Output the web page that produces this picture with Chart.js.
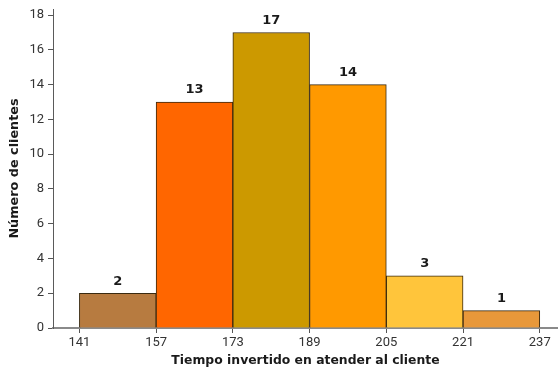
<!DOCTYPE html>
<html>
<head>
<meta charset="utf-8">
<script src="https://cdn.jsdelivr.net/npm/chart.js@4/dist/chart.umd.min.js"></script>
<style>
  html, body { margin: 0; padding: 0; background: #ffffff; }
  #wrap { width: 558px; height: 368px; }
</style>
</head>
<body>
<div id="wrap"><canvas id="hist" width="558" height="368"></canvas></div>
<script>
// Class boundaries (seconds spent attending each customer)
const binEdges = [141, 157, 173, 189, 205, 221, 237];
// Number of customers in each class
const clientCounts = [2, 13, 17, 14, 3, 1];
// Fill colour of each class bar
const barColors = ['#b77b40', '#ff6600', '#cc9900', '#ff9900', '#ffc53b', '#e8983a'];
// Count axis ticks
const countTicks = [0, 2, 4, 6, 8, 10, 12, 14, 16, 18];

const xTitle = 'Tiempo invertido en atender al cliente';
const yTitle = 'Número de clientes';

const TITLE_FONT = "'DejaVu Sans', Verdana, sans-serif";
const TICK_FONT = "Roboto, 'Liberation Sans', Arial, sans-serif";

// each bar sits on the midpoint of its class
const histPoints = clientCounts.map((c, i) => ({ x: (binEdges[i] + binEdges[i + 1]) / 2, y: c }));

// count written above each bar
const barValueLabels = {
  id: 'barValueLabels',
  afterDatasetsDraw(chart) {
    const ctx = chart.ctx;
    const meta = chart.getDatasetMeta(0);
    ctx.save();
    ctx.font = 'bold 13px ' + TITLE_FONT;
    ctx.fillStyle = '#1a1a1a';
    ctx.textAlign = 'center';
    ctx.textBaseline = 'middle';
    meta.data.forEach((bar, i) => {
      ctx.fillText(String(clientCounts[i]), bar.x, bar.y - 12);
    });
    ctx.restore();
  }
};

function drawChart() {
  new Chart(document.getElementById('hist'), {
    type: 'bar',
    data: {
      datasets: [{
        data: histPoints,
        backgroundColor: barColors,
        borderColor: '#3a2a10',
        borderWidth: 1,
        barPercentage: 1,
        categoryPercentage: 1
      }]
    },
    options: {
      responsive: false,
      animation: false,
      events: [],
      layout: { padding: { top: 9, right: 0, left: 0, bottom: 0 } },
      plugins: {
        legend: { display: false },
        tooltip: { enabled: false },
        title: { display: false }
      },
      scales: {
        x: {
          type: 'linear',
          offset: false,
          min: 135.5,
          max: 240.8,
          afterBuildTicks(scale) { scale.ticks = binEdges.map(v => ({ value: v })); },
          afterFit(scale) { scale.height = 40; scale.paddingLeft = 0; scale.paddingRight = 0; },
          ticks: {
            autoSkip: false,
            maxRotation: 0,
            padding: 2,
            color: '#333333',
            font: { family: TICK_FONT, size: 13 },
            callback: v => String(v)
          },
          grid: {
            offset: false,
            drawOnChartArea: false,
            drawTicks: true,
            tickLength: 5,
            color: '#555555'
          },
          border: { display: true, color: '#8a8a8a', width: 2 },
          title: {
            display: true,
            text: xTitle,
            color: '#1a1a1a',
            font: { family: TITLE_FONT, size: 12.4, weight: 'bold' },
            padding: { top: 3, bottom: 0 }
          }
        },
        y: {
          min: 0,
          max: 18.35,
          afterBuildTicks(scale) { scale.ticks = countTicks.map(v => ({ value: v })); },
          afterFit(scale) { scale.width = 53; scale.paddingTop = 0; scale.paddingBottom = 0; },
          ticks: {
            padding: 4,
            color: '#333333',
            font: { family: TICK_FONT, size: 13 },
            callback: v => String(v)
          },
          grid: {
            drawOnChartArea: false,
            drawTicks: true,
            tickLength: 5,
            color: '#555555'
          },
          border: { display: true, color: '#5a5a5a', width: 1 },
          title: {
            display: true,
            text: yTitle,
            color: '#1a1a1a',
            font: { family: TITLE_FONT, size: 12.8, weight: 'bold' },
            padding: { top: 7, bottom: 0 }
          }
        }
      }
    },
    plugins: [barValueLabels]
  });
}

Promise.all([
  document.fonts.load('13px Roboto'),
  document.fonts.load("bold 13px 'DejaVu Sans'")
]).then(drawChart, drawChart);
</script>
</body>
</html>
